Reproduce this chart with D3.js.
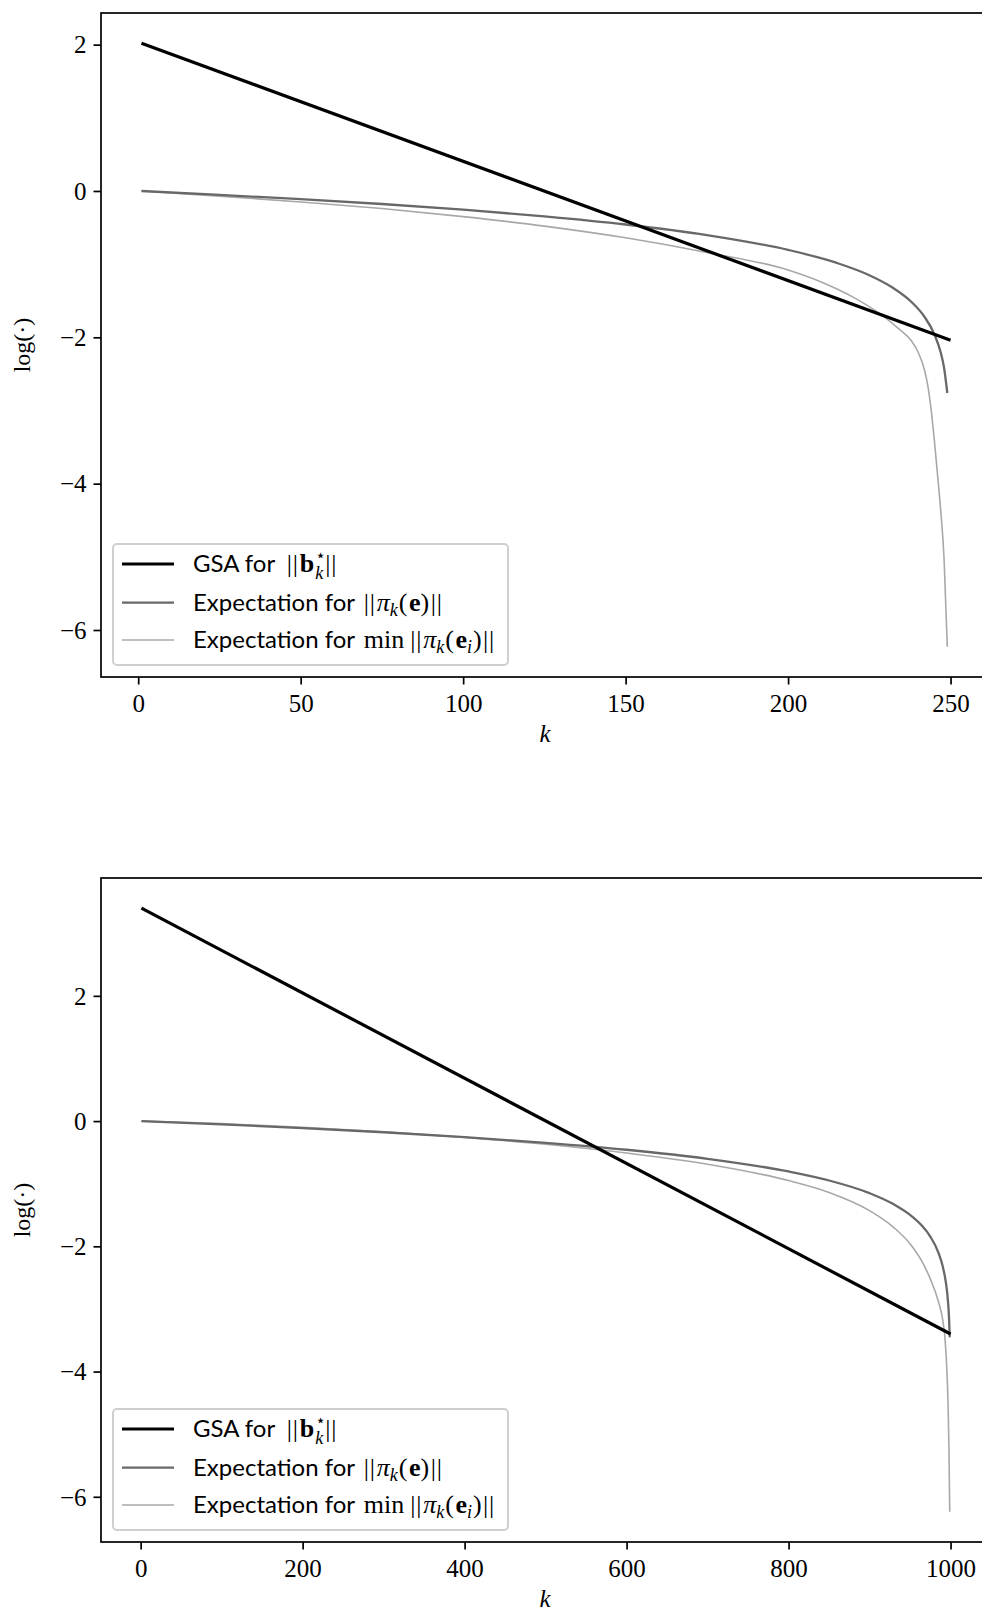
<!DOCTYPE html>
<html lang="en">
<head>
    <meta charset="UTF-8">
    <title>GSA vs projected error norms</title>
    <script src="https://d3js.org/d3.v7.min.js"></script>
    <style>
        body { margin: 0; background: #fff; }
        svg { display: block; }
    </style>
</head>
<body>
    <svg id="fig" width="982" height="1611"></svg>

    <script>
        // --- n = 250 ---
        const gsaK250 = [1, 250];
        const gsaV250 = [2.02, -2.04];
        const expK250 = [1, 25, 50, 75, 100, 125, 150, 175, 200, 215, 225, 232, 238, 242, 245, 247, 248, 249];
        const expV250 = [0.0, -0.053, -0.112, -0.178, -0.255, -0.347, -0.458, -0.602, -0.805, -0.983, -1.151, -1.316, -1.518, -1.721, -1.956, -2.211, -2.414, -2.761];
        const minK250 = [1, 25, 50, 75, 100, 125, 150, 175, 200, 210, 220, 228, 234, 238, 240, 242, 243, 244, 245, 246, 247, 248, 249];
        const minV250 = [0.0, -0.07, -0.15, -0.24, -0.35, -0.48, -0.64, -0.84, -1.08, -1.24, -1.45, -1.67, -1.88, -2.05, -2.20, -2.45, -2.66, -2.98, -3.40, -3.88, -4.38, -5.02, -6.23];
        const xTicks250 = [0, 50, 100, 150, 200, 250];

        // --- n = 1000 ---
        const gsaK1000 = [1, 1000];
        const gsaV1000 = [3.40, -3.40];
        const expK1000 = [1, 100, 200, 300, 400, 500, 600, 700, 800, 850, 900, 930, 950, 965, 975, 985, 990, 994, 996, 998, 999];
        const expV1000 = [0.0, -0.053, -0.112, -0.178, -0.255, -0.347, -0.458, -0.602, -0.805, -0.949, -1.151, -1.330, -1.498, -1.676, -1.844, -2.100, -2.303, -2.558, -2.761, -3.107, -3.454];
        const minK1000 = [1, 100, 200, 300, 400, 500, 600, 700, 800, 850, 900, 930, 950, 965, 975, 985, 990, 993, 995, 997, 998, 999];
        const minV1000 = [0.0, -0.04, -0.10, -0.17, -0.26, -0.37, -0.51, -0.69, -0.95, -1.14, -1.43, -1.70, -1.96, -2.25, -2.52, -2.88, -3.15, -3.45, -3.85, -4.55, -5.20, -6.24];
        const xTicks1000 = [0, 200, 400, 600, 800, 1000];

        const yTicks = [-6, -4, -2, 0, 2];

        const serif = "'Liberation Serif', 'DejaVu Serif', serif";
        const sans = "Lato, 'Noto Sans', sans-serif";
        const symbolFont = "'DejaVu Sans', sans-serif";

        const seriesStyle = [
            { color: '#000000', width: 3.2 },
            { color: '#686868', width: 2.3 },
            { color: '#a8a8a8', width: 1.6 }
        ];

        const svg = d3.select('#fig');
        const axW = 890, axH = 664;

        function zip(ks, vs) { return ks.map((k, i) => ({ k: k, v: vs[i] })); }

        function minus(d) { return d < 0 ? '\u2212' + Math.abs(d) : String(d); }

        // lays out text pieces left to right, measuring each one
        function richText(g, x, y, parts) {
            let cx = x;
            parts.forEach(p => {
                const t = g.append('text')
                    .attr('x', cx)
                    .attr('y', y + (p.dy || 0))
                    .attr('font-family', p.font || serif)
                    .attr('font-size', p.size || 26)
                    .attr('font-style', p.italic ? 'italic' : 'normal')
                    .attr('font-weight', p.bold ? 'bold' : 'normal')
                    .attr('letter-spacing', p.ls || null)
                    .attr('fill', '#000')
                    .text(p.t);
                const w = t.node().getComputedTextLength();
                if (!p.hold) cx += w + (p.gap || 0);
            });
        }

        // norm bars drawn as two vertical strokes
        const bars = { t: '||', ls: 0.8, gap: 1 };
        const open = { t: '(', gap: 1.5 };
        const close = { t: ')', gap: 1.5 };

        const legendLabels = [
            [
                { t: 'GSA for\u00A0', font: sans, size: 24, gap: 6 },
                bars,
                { t: 'b', bold: true, gap: 1 },
                { t: '\u22C6', font: symbolFont, size: 17, dy: -11, hold: true },
                { t: 'k', italic: true, size: 18, dy: 7, gap: 2 },
                bars
            ],
            [
                { t: 'Expectation for\u00A0', font: sans, size: 24, gap: 3 },
                bars,
                { t: '\u03C0', italic: true },
                { t: 'k', italic: true, size: 18, dy: 5, gap: 1 },
                open,
                { t: 'e', bold: true },
                close,
                bars
            ],
            [
                { t: 'Expectation for\u00A0', font: sans, size: 24, gap: 3 },
                { t: 'min', gap: 6 },
                bars,
                { t: '\u03C0', italic: true },
                { t: 'k', italic: true, size: 18, dy: 5, gap: 1 },
                open,
                { t: 'e', bold: true },
                { t: 'i', italic: true, size: 18, dy: 5, gap: 1 },
                close,
                bars
            ]
        ];

        function drawPanel(top, series, xTicks) {
            const g = svg.append('g').attr('transform', `translate(101,${top})`);

            const allK = series.flatMap(s => s.map(d => d.k));
            const allV = series.flatMap(s => s.map(d => d.v));
            const [k0, k1] = d3.extent(allK);
            const [v0, v1] = d3.extent(allV);
            const kp = (k1 - k0) * 0.05, vp = (v1 - v0) * 0.05;

            const x = d3.scaleLinear().domain([k0 - kp, k1 + kp]).range([0, axW]);
            const y = d3.scaleLinear().domain([v0 - vp, v1 + vp]).range([axH, 0]);

            const line = d3.line()
                .x(d => x(d.k))
                .y(d => y(d.v))
                .curve(d3.curveMonotoneX);

            // draw lightest first so GSA ends up on top
            [2, 1, 0].forEach(i => {
                g.append('path')
                    .datum(series[i])
                    .attr('fill', 'none')
                    .attr('stroke', seriesStyle[i].color)
                    .attr('stroke-width', seriesStyle[i].width)
                    .attr('stroke-linejoin', 'round')
                    .attr('d', line);
            });

            // axes
            const xAxis = d3.axisBottom(x).tickValues(xTicks).tickSize(7.5).tickPadding(6).tickFormat(d => d);
            const yAxis = d3.axisLeft(y).tickValues(yTicks).tickSize(7.5).tickPadding(7).tickFormat(minus);

            const gx = g.append('g').attr('transform', `translate(0,${axH})`).call(xAxis);
            const gy = g.append('g').call(yAxis);
            [gx, gy].forEach(a => {
                a.attr('font-family', serif).attr('font-size', 25);
                a.select('.domain').remove();
                a.selectAll('.tick line').attr('stroke', '#000').attr('stroke-width', 1.7);
                a.selectAll('.tick text')
                    .attr('font-family', serif)
                    .attr('font-size', 25)
                    .attr('fill', '#000');
            });
            gx.selectAll('.tick text').attr('dy', null).attr('y', 35);
            gy.selectAll('.tick text').attr('dy', '0.33em');

            // frame
            g.append('rect')
                .attr('width', axW).attr('height', axH)
                .attr('fill', 'none').attr('stroke', '#000').attr('stroke-width', 1.7);

            // axis labels
            g.append('text')
                .attr('x', axW / 2 - 1).attr('y', axH + 65)
                .attr('text-anchor', 'middle')
                .attr('font-family', serif).attr('font-size', 25).attr('font-style', 'italic')
                .text('k');
            g.append('text')
                .attr('transform', `translate(-71,${axH / 2}) rotate(-90)`)
                .attr('text-anchor', 'middle')
                .attr('font-family', serif).attr('font-size', 24)
                .text('log(\u00B7)');

            // legend, lower left
            const lg = g.append('g').attr('transform', `translate(12,${axH - 133})`);
            lg.append('rect')
                .attr('width', 395).attr('height', 121)
                .attr('rx', 4)
                .attr('fill', 'rgba(255,255,255,0.8)')
                .attr('stroke', '#cfcfcf').attr('stroke-width', 2);
            const rowY = [20, 58.7, 96];
            rowY.forEach((ry, i) => {
                lg.append('line')
                    .attr('x1', 9).attr('x2', 61)
                    .attr('y1', ry).attr('y2', ry)
                    .attr('stroke', seriesStyle[i].color)
                    .attr('stroke-width', seriesStyle[i].width);
                richText(lg, 80, ry + 8, legendLabels[i]);
            });
        }

        drawPanel(13, [zip(gsaK250, gsaV250), zip(expK250, expV250), zip(minK250, minV250)], xTicks250);
        drawPanel(878, [zip(gsaK1000, gsaV1000), zip(expK1000, expV1000), zip(minK1000, minV1000)], xTicks1000);
    </script>
</body>
</html>
